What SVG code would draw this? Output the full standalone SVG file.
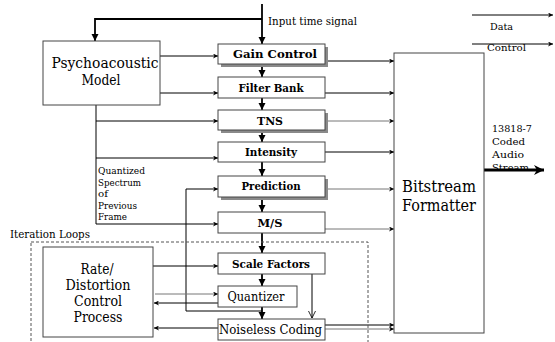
<svg xmlns="http://www.w3.org/2000/svg" width="555" height="342" viewBox="0 0 555 342" font-family="DejaVu Serif, serif">
<style>
.box{fill:#fff;stroke:#444;stroke-width:1}
.shadow{fill:#8a8a8a}
text{fill:#000;font-family:'DejaVu Serif',serif}
.b{font-weight:bold;font-size:11.5px}
.ln{fill:none;stroke:#000;stroke-width:1}
.g{stroke:#777}
.v{fill:none;stroke:#000;stroke-width:1.8}
.dash{fill:none;stroke:#555;stroke-width:1;stroke-dasharray:3,2}
</style>
<defs>
<marker id="ah" viewBox="0 0 10 10" refX="10" refY="5" markerWidth="7" markerHeight="5" markerUnits="userSpaceOnUse" orient="auto"><path d="M0,0 L10,5 L0,10 L3,5 z" fill="#000"/></marker>
<marker id="av" viewBox="0 0 10 10" refX="10" refY="5" markerWidth="7" markerHeight="8" markerUnits="userSpaceOnUse" orient="auto"><path d="M0,0 L10,5 L0,10 z" fill="#000"/></marker>
<marker id="ab" viewBox="0 0 10 10" refX="10" refY="5" markerWidth="16" markerHeight="10" markerUnits="userSpaceOnUse" orient="auto"><path d="M0,0 L10,5 L0,10 L3,5 z" fill="#000"/></marker>
<marker id="ao" viewBox="0 0 10 10" refX="10" refY="5" markerWidth="7" markerHeight="8" markerUnits="userSpaceOnUse" orient="auto"><path d="M0,0 L10,5 L0,10" fill="none" stroke="#000" stroke-width="1.2"/></marker>
</defs>

<g id="connectors">
<line class="v" x1="262" y1="4" x2="262" y2="44" marker-end="url(#av)"/>
<polyline class="v" points="262,19 95,19 95,41" marker-end="url(#av)"/>
<line class="v" x1="262" y1="64" x2="262" y2="77" marker-end="url(#av)"/>
<line class="v" x1="262" y1="98" x2="262" y2="110" marker-end="url(#av)"/>
<line class="v" x1="262" y1="130" x2="262" y2="142" marker-end="url(#av)"/>
<line class="v" x1="262" y1="162" x2="262" y2="176" marker-end="url(#av)"/>
<line class="v" x1="262" y1="197" x2="262" y2="212" marker-end="url(#av)"/>
<line class="v" x1="262" y1="233" x2="262" y2="253" marker-end="url(#av)"/>
<line class="v" x1="262" y1="274" x2="262" y2="286" marker-end="url(#av)"/>
<line class="v" x1="262" y1="307" x2="262" y2="319" marker-end="url(#av)"/>
<line class="ln" x1="160" y1="56" x2="218" y2="56" marker-end="url(#ah)"/>
<line class="ln" x1="160" y1="93" x2="218" y2="93" marker-end="url(#ah)"/>
<polyline class="ln" points="96,105 96,224 218,224" marker-end="url(#ah)"/>
<line class="ln" x1="96" y1="121" x2="218" y2="121" marker-end="url(#ah)"/>
<line class="ln" x1="96" y1="158" x2="218" y2="158" marker-end="url(#ah)"/>
<polyline class="ln" points="262,311 186,311 186,189 218,189" marker-end="url(#ah)"/>
<line class="ln" x1="328" y1="61" x2="394" y2="61" marker-end="url(#ah)"/>
<line class="ln" x1="325" y1="93" x2="394" y2="93" marker-end="url(#ah)"/>
<line class="ln g" x1="328" y1="121" x2="394" y2="121" marker-end="url(#ah)"/>
<line class="ln" x1="325" y1="152" x2="394" y2="152" marker-end="url(#ah)"/>
<line class="ln g" x1="328" y1="189" x2="394" y2="189" marker-end="url(#ah)"/>
<line class="ln g" x1="325" y1="229" x2="394" y2="229" marker-end="url(#ah)"/>
<line class="ln" x1="325" y1="325" x2="394" y2="325" marker-end="url(#ah)"/>
<line class="ln g" x1="325" y1="329" x2="394" y2="329" marker-end="url(#ah)"/>
<line class="ln" x1="153" y1="266" x2="218" y2="266" marker-end="url(#ah)"/>
<line class="ln g" x1="155" y1="294" x2="218" y2="294" marker-end="url(#ah)"/>
<line class="ln" x1="218" y1="303" x2="154" y2="303" marker-end="url(#ah)"/>
<line class="ln" x1="218" y1="328" x2="154" y2="328" marker-end="url(#ah)"/>
<line class="ln" x1="312" y1="274" x2="312" y2="318" marker-end="url(#ao)"/>
<line x1="484" y1="170" x2="544" y2="170" stroke="#000" stroke-width="3" marker-end="url(#ab)"/>
<line class="ln" x1="472" y1="15" x2="553" y2="15" marker-end="url(#ah)"/>
<line class="ln" x1="472" y1="44" x2="553" y2="44" marker-end="url(#ah)"/>
</g>

<rect class="dash" x="31" y="242" width="337" height="110"/>
<text x="10" y="238" font-size="11" textLength="80" lengthAdjust="spacingAndGlyphs">Iteration Loops</text>

<g id="psycho">
<rect class="box" x="43" y="41" width="117" height="64"/>
<text x="105" y="68" font-size="14.5" text-anchor="middle" textLength="107" lengthAdjust="spacingAndGlyphs">Psychoacoustic</text>
<text x="101" y="85" font-size="14.5" text-anchor="middle" textLength="39" lengthAdjust="spacingAndGlyphs">Model</text>
</g>
<g id="gain">
<rect class="shadow" x="221" y="47" width="107" height="20"/>
<rect class="box" x="218" y="44" width="107" height="20"/>
<text class="b" x="275" y="58" text-anchor="middle" textLength="84" lengthAdjust="spacingAndGlyphs">Gain Control</text>
</g>
<g id="filterbank">
<rect class="box" x="218" y="77" width="107" height="21"/>
<text class="b" x="271" y="92" text-anchor="middle" textLength="65" lengthAdjust="spacingAndGlyphs">Filter Bank</text>
</g>
<g id="tns">
<rect class="shadow" x="221" y="113" width="107" height="20"/>
<rect class="box" x="218" y="110" width="107" height="20"/>
<text class="b" x="270" y="125" text-anchor="middle" textLength="26" lengthAdjust="spacingAndGlyphs">TNS</text>
</g>
<g id="intensity">
<rect class="box" x="218" y="142" width="107" height="20"/>
<text class="b" x="271" y="156" text-anchor="middle" textLength="52" lengthAdjust="spacingAndGlyphs">Intensity</text>
</g>
<g id="prediction">
<rect class="shadow" x="221" y="179" width="107" height="21"/>
<rect class="box" x="218" y="176" width="107" height="21"/>
<text class="b" x="271" y="190" text-anchor="middle" textLength="59" lengthAdjust="spacingAndGlyphs">Prediction</text>
</g>
<g id="ms">
<rect class="box" x="218" y="212" width="107" height="21"/>
<text class="b" x="270" y="227" text-anchor="middle" textLength="25" lengthAdjust="spacingAndGlyphs">M/S</text>
</g>
<g id="scalefactors">
<rect class="box" x="218" y="253" width="107" height="21"/>
<text class="b" x="271" y="268" text-anchor="middle" textLength="78" lengthAdjust="spacingAndGlyphs">Scale Factors</text>
</g>
<g id="quantizer">
<rect class="box" x="218" y="286" width="79" height="21"/>
<text x="256" y="301" font-size="12.5" text-anchor="middle" textLength="57" lengthAdjust="spacingAndGlyphs">Quantizer</text>
</g>
<g id="noiseless">
<rect class="box" x="218" y="319" width="107" height="21"/>
<text x="219" y="334" font-size="13.5" textLength="103" lengthAdjust="spacingAndGlyphs">Noiseless Coding</text>
</g>
<g id="ratedistortion">
<rect class="box" x="43" y="247" width="110" height="90"/>
<text x="97" y="274" font-size="14.5" text-anchor="middle" textLength="33" lengthAdjust="spacingAndGlyphs">Rate/</text>
<text x="98" y="290" font-size="14.5" text-anchor="middle" textLength="65" lengthAdjust="spacingAndGlyphs">Distortion</text>
<text x="98" y="306" font-size="14.5" text-anchor="middle" textLength="48" lengthAdjust="spacingAndGlyphs">Control</text>
<text x="98" y="322" font-size="14.5" text-anchor="middle" textLength="49" lengthAdjust="spacingAndGlyphs">Process</text>
</g>
<g id="bitstream">
<rect class="box" x="394" y="53" width="90" height="280"/>
<text x="439" y="192" font-size="17" text-anchor="middle" textLength="74" lengthAdjust="spacingAndGlyphs">Bitstream</text>
<text x="439" y="211" font-size="17" text-anchor="middle" textLength="74" lengthAdjust="spacingAndGlyphs">Formatter</text>
</g>

<g id="labels">
<text x="268" y="25" font-size="11" textLength="89" lengthAdjust="spacingAndGlyphs">Input time signal</text>
<text x="490" y="30" font-size="10" textLength="23" lengthAdjust="spacingAndGlyphs">Data</text>
<text x="487" y="51" font-size="10" textLength="39" lengthAdjust="spacingAndGlyphs">Control</text>
<text x="492" y="132" font-size="10" textLength="40" lengthAdjust="spacingAndGlyphs">13818-7</text>
<text x="492" y="145" font-size="10" textLength="33" lengthAdjust="spacingAndGlyphs">Coded</text>
<text x="492" y="158" font-size="10" textLength="32" lengthAdjust="spacingAndGlyphs">Audio</text>
<text x="492" y="171" font-size="10" textLength="37" lengthAdjust="spacingAndGlyphs">Stream</text>
<text x="98" y="174" font-size="9.5" textLength="47" lengthAdjust="spacingAndGlyphs">Quantized</text>
<text x="98" y="186" font-size="9.5" textLength="43" lengthAdjust="spacingAndGlyphs">Spectrum</text>
<text x="98" y="197" font-size="9.5" textLength="10" lengthAdjust="spacingAndGlyphs">of</text>
<text x="98" y="209" font-size="9.5" textLength="39" lengthAdjust="spacingAndGlyphs">Previous</text>
<text x="98" y="220" font-size="9.5" textLength="29" lengthAdjust="spacingAndGlyphs">Frame</text>
</g>
</svg>
